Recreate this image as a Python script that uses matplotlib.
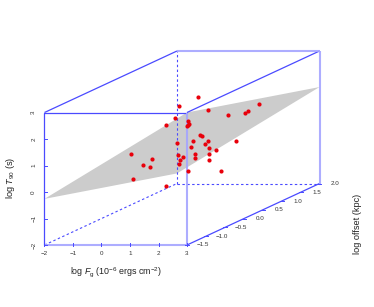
import matplotlib
matplotlib.use('Agg')
import matplotlib.pyplot as plt
import numpy as np

plt.rcParams['font.family'] = ['Liberation Sans', 'DejaVu Sans']
plt.rcParams['mathtext.fontset'] = 'custom'
plt.rcParams['mathtext.rm'] = 'Liberation Sans'
plt.rcParams['mathtext.it'] = 'Liberation Sans:italic'
plt.rcParams['axes.unicode_minus'] = True

# values; depth can't be separated from one projection,
# so all points sit at a single offset
log_fg = [0.72, 0.07, -0.08, -0.40, 1.08, 1.79, 2.86, 2.47, 2.39, 0.38, 0.42, 0.39, 0.35,
          0.79, 0.87, 1.07, 0.54, 2.05, -0.02, 0.98, 0.49, 1.11, 1.37, 1.11, 0.64, 0.62,
          0.03, 0.19, 0.10, 0.05, 1.11, 0.37, 1.53, -1.61, -0.88, -1.20, -0.95, -1.54, -0.38]
log_t90 = [2.27, 1.93, 1.48, 1.22, 1.76, 1.57, 2.00, 1.74, 1.65, 1.35, 1.25, 1.22, 1.17,
           0.82, 0.79, 0.59, 0.59, 0.61, 0.54, 0.49, 0.36, 0.35, 0.25, 0.12, 0.11, -0.03,
           0.07, 0.00, -0.11, -0.27, -0.13, -0.52, -0.53, 0.12, -0.09, -0.31, -0.37, -0.83, -1.11]
log_offset = 0.5

# fitted plane, corners as (log F, log offset, log T)
plane_fg = [-2, 3, 3, -2]
plane_offset = [-1.5, -1.5, 2, 2]
plane_t90 = [-0.26, 3.0, 1.64, -1.62]

fg_ticks = [-2, -1, 0, 1, 2, 3]
t90_ticks = [-2, -1, 0, 1, 2, 3]
offset_ticks = [-1.5, -1.0, -0.5, 0.0, 0.5, 1.0, 1.5, 2.0]

FG_MIN, FG_MAX = -2, 3
T_MIN, T_MAX = -2, 3
OFF_MIN, OFF_MAX = -1.5, 2.0

SHEAR_X = 132.5 / 28.5 / 3.5  # how far one unit of depth moves things sideways
SHEAR_Y = 61.5 / 26.5 / 3.5   # and upwards

BLUE = '#4a4aff'
PALE = '#a4a4ff'


def proj(f, d, t):
    f, d, t = np.asarray(f, float), np.asarray(d, float), np.asarray(t, float)
    return f + (d - OFF_MIN) * SHEAR_X, t + (d - OFF_MIN) * SHEAR_Y


def edge(f, d, t, **kw):
    x, y = proj(f, d, t)
    ax.plot(x, y, solid_capstyle='butt', **kw)


fig = plt.figure(figsize=(3.74, 3.07), dpi=100)
ax = fig.add_axes([0, 0, 1, 1])
ax.set_xlim(-2 - 44.5 / 28.5, -2 + 329.5 / 28.5)
ax.set_ylim(-2 - 62 / 26.5, -2 + 245 / 26.5)
ax.axis('off')

# plane
px, py = proj(plane_fg, plane_offset, plane_t90)
ax.fill(px, py, color='#cccccc', lw=0, zorder=1)

# hidden edges
dash = dict(color=BLUE, lw=0.8, ls=(0, (2.2, 2.2)), zorder=2)
edge([FG_MIN, FG_MIN], [OFF_MAX, OFF_MAX], [T_MIN, T_MAX], **dash)
edge([FG_MIN, FG_MAX], [OFF_MAX, OFF_MAX], [T_MIN, T_MIN], **dash)
edge([FG_MIN, FG_MIN], [OFF_MIN, OFF_MAX], [T_MIN, T_MIN], **dash)

# points
sx, sy = proj(log_fg, np.full(len(log_fg), log_offset), log_t90)
ax.scatter(sx, sy, s=9, color='#e8000b', lw=0, zorder=6)

# thin edges
thin = dict(color=BLUE, lw=0.9, zorder=4)
edge([FG_MIN, FG_MIN], [OFF_MIN, OFF_MAX], [T_MAX, T_MAX], **thin)
edge([FG_MAX, FG_MAX], [OFF_MIN, OFF_MAX], [T_MAX, T_MAX], **thin)
edge([FG_MAX, FG_MAX], [OFF_MIN, OFF_MAX], [T_MIN, T_MIN], **thin)
edge([FG_MIN, FG_MAX], [OFF_MIN, OFF_MIN], [T_MAX, T_MAX], **thin)
edge([FG_MIN, FG_MIN], [OFF_MIN, OFF_MIN], [T_MIN, T_MAX], **thin)

# heavier pale edges
thick = dict(color=PALE, lw=1.5, alpha=0.9, zorder=4)
edge([FG_MIN, FG_MAX], [OFF_MIN, OFF_MIN], [T_MIN, T_MIN], **thick)
edge([FG_MAX, FG_MAX], [OFF_MIN, OFF_MIN], [T_MIN, T_MAX], **thick)
edge([FG_MIN, FG_MAX], [OFF_MAX, OFF_MAX], [T_MAX, T_MAX], **thick)
edge([FG_MAX, FG_MAX], [OFF_MAX, OFF_MAX], [T_MIN, T_MAX], **thick)

# ticks and labels
TICK_C = '#333333'
for f in fg_ticks:
    ax.plot([f, f], [T_MIN - 0.03, T_MIN + 0.08], color=BLUE, lw=0.7, zorder=5)
    ax.text(f, T_MIN - 0.32, str(f).replace('-', '\u2212'), fontsize=4.5, color=TICK_C,
            ha='center', va='center')
for t in t90_ticks:
    ax.plot([FG_MIN - 0.03, FG_MIN + 0.08], [t, t], color=BLUE, lw=0.7, zorder=5)
    ax.text(FG_MIN - 0.38, t, str(t).replace('-', '\u2212'), fontsize=4.5, color=TICK_C,
            rotation=90, ha='center', va='center')
for d in offset_ticks:
    tx, ty = proj(FG_MAX, d, T_MIN)
    ax.plot([tx - 0.07, tx + 0.07], [ty, ty], color=BLUE, lw=0.7, zorder=5)
    ax.text(tx + 0.56, ty, f'{d:.1f}'.replace('-', '\u2212'), fontsize=4.5, color=TICK_C,
            ha='center', va='center')

ax.text(0.5, -3.02, r'log $F_{\mathrm{g}}$ ($10^{-6}$ ergs cm$^{-2}$)', fontsize=6.4,
        color='#222222', ha='center', va='center')
ax.text(-3.2, 0.53, r'log $T_{90}$ (s)', fontsize=6.6, color='#222222', rotation=90,
        ha='center', va='center')
ax.text(8.97, -1.2, 'log offset (kpc)', fontsize=6.6, color='#222222', rotation=90,
        ha='center', va='center')

fig.savefig('out.png', dpi=100)
